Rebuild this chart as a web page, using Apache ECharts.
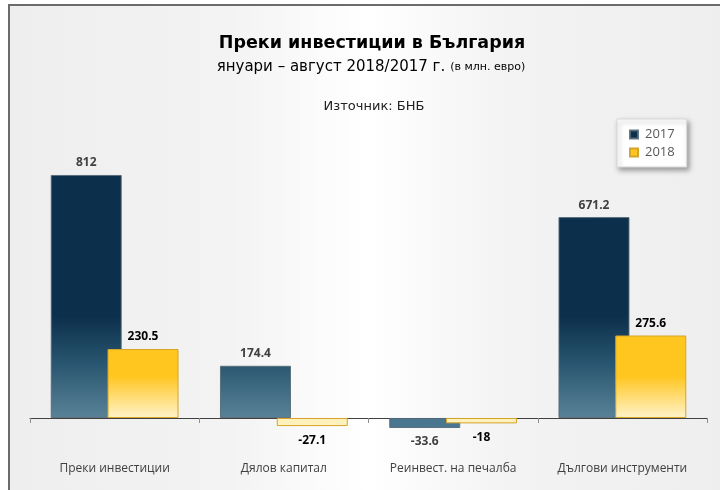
<!DOCTYPE html>
<html>
<head>
<meta charset="utf-8">
<script src="https://cdn.jsdelivr.net/npm/echarts@6/dist/echarts.min.js"></script>
<style>
html,body{margin:0;padding:0;background:#fff;}
#chart{width:720px;height:490px;}
</style>
</head>
<body>
<div id="chart"></div>
<script>
var categories = ['Преки инвестиции', 'Дялов капитал', 'Реинвест. на печалба', 'Дългови инструменти'];
var values2017 = [812, 174.4, -33.6, 671.2];
var values2018 = [230.5, -27.1, -18, 275.6];
var seriesNames = ['2017', '2018'];

var chart = echarts.init(document.getElementById('chart'), null, {renderer: 'canvas'});

function grad(y1, y2, stops) {
  return new echarts.graphic.LinearGradient(0, y1, 0, y2, stops, true);
}
var fill2017 = grad(316, 420, [
  {offset: 0, color: '#0c2f4c'},
  {offset: 0.45, color: '#28556f'},
  {offset: 1, color: '#5b8499'}
]);
var fill2018 = grad(376, 420, [
  {offset: 0, color: '#ffc61f'},
  {offset: 1, color: '#fff5d2'}
]);

function buildData(vals, negColor) {
  return vals.map(function (v) {
    var item = {value: v};
    if (v < 0) {
      item.itemStyle = {color: negColor};
      item.label = {position: 'bottom', distance: 8};
    }
    return item;
  });
}

var labelBase = {
  show: true,
  position: 'top',
  distance: 6,
  fontFamily: 'Open Sans',
  fontWeight: 'bold',
  fontSize: 12
};

var option = {
  animation: false,
  backgroundColor: '#ffffff',
  graphic: [{
    type: 'rect',
    z: -10,
    silent: true,
    shape: {x: 9, y: 5, width: 730, height: 500},
    style: {
      fill: new echarts.graphic.LinearGradient(0, 0, 1, 0, [
        {offset: 0, color: '#eeeeee'},
        {offset: 0.3, color: '#f3f3f3'},
        {offset: 0.49, color: '#ffffff'},
        {offset: 0.68, color: '#f3f3f3'},
        {offset: 1, color: '#eeeeee'}
      ]),
      stroke: '#6b6b6b',
      lineWidth: 2
    }
  }],
  title: [{
    text: 'Преки инвестиции в България',
    left: 367, top: 29, textAlign: 'center',
    textStyle: {fontFamily: 'DejaVu Sans', fontWeight: 'bold', fontSize: 17.5, color: '#000'}
  }, {
    text: '{a|януари – август 2018/2017 г.} {b|(в млн. евро)}',
    left: 366, top: 53, textAlign: 'center',
    textStyle: {
      fontWeight: 'normal',
      rich: {
        a: {fontFamily: 'DejaVu Sans', fontWeight: 'normal', fontSize: 15, color: '#000'},
        b: {fontFamily: 'DejaVu Sans', fontWeight: 'normal', fontSize: 11, color: '#000'}
      }
    }
  }, {
    text: 'Източник: БНБ',
    left: 369, top: 95, textAlign: 'center',
    textStyle: {fontFamily: 'DejaVu Sans', fontWeight: 'normal', fontSize: 13, color: '#222'}
  }],
  legend: {
    data: seriesNames,
    orient: 'vertical',
    left: 617, top: 119,
    padding: [9, 12, 8, 12],
    itemWidth: 8, itemHeight: 8, itemGap: 5,
    icon: 'rect',
    backgroundColor: '#ffffff',
    borderColor: '#d8d8d8', borderWidth: 1,
    shadowColor: 'rgba(0,0,0,0.35)', shadowBlur: 5, shadowOffsetX: 2, shadowOffsetY: 3,
    textStyle: {fontFamily: 'Open Sans', fontSize: 13, color: '#595959', lineHeight: 13, padding: [0, 0, 0, 2]}
  },
  grid: {left: 30, right: 13, top: 118.7, bottom: 42.1, containLabel: false, outerBoundsMode: 'none'},
  xAxis: {
    type: 'category',
    data: categories,
    axisLine: {onZero: true, lineStyle: {color: '#404040', width: 1}},
    axisTick: {show: true, length: 5, lineStyle: {color: '#8c8c8c'}},
    axisLabel: {margin: 15, fontFamily: 'Open Sans', fontSize: 12, color: '#404040', interval: 0},
    splitLine: {show: false}
  },
  yAxis: {
    type: 'value',
    min: -100, max: 1000,
    show: false,
    splitLine: {show: false}
  },
  series: [{
    name: seriesNames[0],
    type: 'bar',
    barWidth: 71,
    barGap: '-20%',
    data: buildData(values2017, '#4b7690'),
    itemStyle: {color: fill2017, borderColor: 'rgba(85,105,120,0.9)', borderWidth: 1},
    label: Object.assign({}, labelBase, {color: '#404040'})
  }, {
    name: seriesNames[1],
    type: 'bar',
    barWidth: 71,
    data: buildData(values2018, '#fff1bb'),
    itemStyle: {color: fill2018, borderColor: '#d6a42a', borderWidth: 1},
    label: Object.assign({}, labelBase, {color: '#000'})
  }]
};
chart.setOption(option);
</script>
</body>
</html>
